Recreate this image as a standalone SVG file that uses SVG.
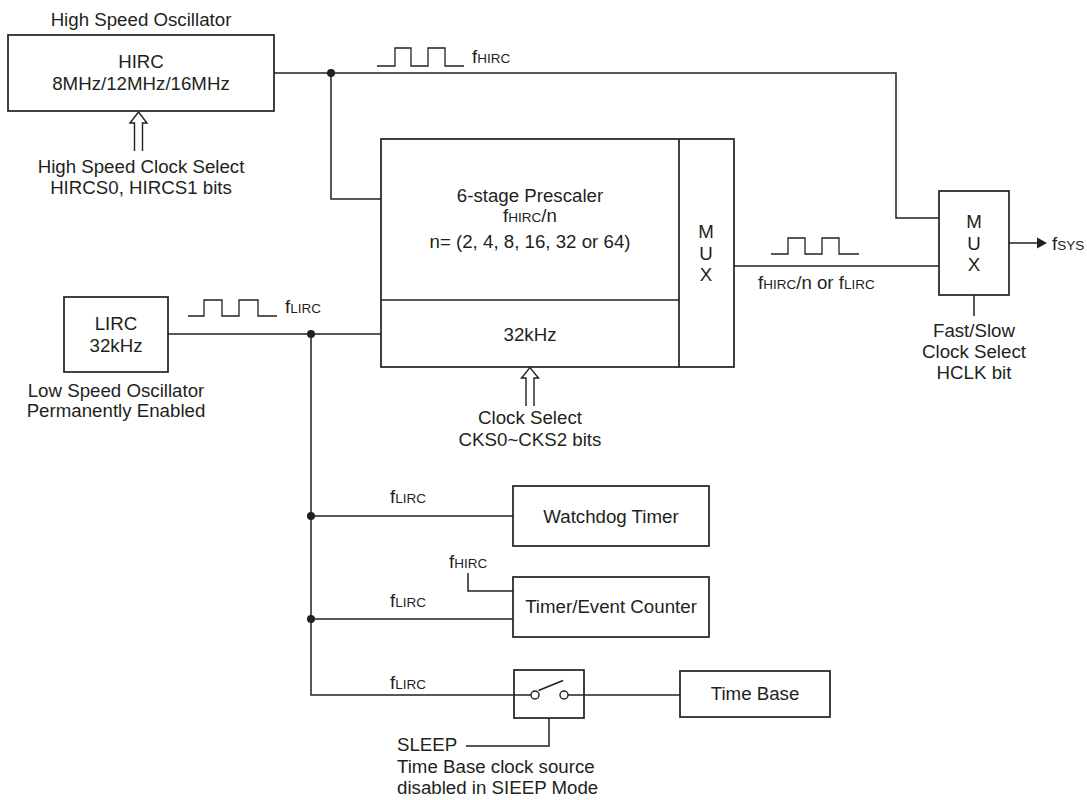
<svg xmlns="http://www.w3.org/2000/svg" width="1087" height="800" viewBox="0 0 1087 800">
<style>
text{font-family:"Liberation Sans",Arial,Helvetica,sans-serif;font-size:18.7px;fill:#231f20}
.c{text-anchor:middle}
.s{font-size:13.5px}
.box{fill:#fff;stroke:#231f20;stroke-width:1.7}
.ln{fill:none;stroke:#231f20;stroke-width:1.5}
.wv{fill:none;stroke:#231f20;stroke-width:1.3}
.dot{fill:#231f20}
.hol{fill:#fff;stroke:#231f20;stroke-width:1.4;stroke-linejoin:miter}
</style>
<rect width="1087" height="800" fill="#fff"/>

<g id="connectors">
  <path class="ln" d="M274,73 H896 V218 H939"/>
  <path class="ln" d="M331,73 V199 H381"/>
  <path class="ln" d="M734,266 H939"/>
  <path class="ln" d="M1009,243 H1040"/>
  <polygon class="dot" points="1037,237.5 1047,243 1037,248.5"/>
  <path class="ln" d="M974,295 V316"/>
  <path class="ln" d="M168,334 H381"/>
  <path class="ln" d="M311,334 V695 H514"/>
  <path class="ln" d="M311,516 H513"/>
  <path class="ln" d="M311,619 H513"/>
  <path class="ln" d="M468,573 V591 H513"/>
  <path class="ln" d="M584,695 H680"/>
  <path class="ln" d="M549,718 V746 H466"/>
  <circle class="dot" cx="331" cy="73" r="4"/>
  <circle class="dot" cx="311" cy="334" r="4"/>
  <circle class="dot" cx="311" cy="516" r="4"/>
  <circle class="dot" cx="311" cy="619" r="4"/>
  <path class="wv" d="M377,66 H395 V48 H411 V66 H428 V48 H445 V66 H464"/>
  <path class="wv" d="M188,316 H204 V300 H222 V316 H239 V300 H258 V316 H277"/>
  <path class="wv" d="M771,254 H788 V238 H805 V254 H822 V238 H839 V254 H859"/>
  <text x="472" y="63">f<tspan class="s">HIRC</tspan></text>
  <text x="285" y="313">f<tspan class="s">LIRC</tspan></text>
  <text x="758" y="289">f<tspan class="s">HIRC</tspan>/n or f<tspan class="s">LIRC</tspan></text>
  <text x="1052" y="250">f<tspan class="s">SYS</tspan></text>
  <text x="390" y="503">f<tspan class="s">LIRC</tspan></text>
  <text x="390" y="607">f<tspan class="s">LIRC</tspan></text>
  <text x="390" y="689">f<tspan class="s">LIRC</tspan></text>
  <text x="449" y="568">f<tspan class="s">HIRC</tspan></text>
  <text x="974" y="337" class="c">Fast/Slow</text>
  <text x="974" y="358" class="c">Clock Select</text>
  <text x="974" y="379" class="c">HCLK bit</text>
  <text x="397" y="751">SLEEP</text>
  <text x="397" y="773">Time Base clock source</text>
  <text x="397" y="794">disabled in SIEEP Mode</text>
</g>

<g id="hirc">
  <text x="141" y="26" class="c">High Speed Oscillator</text>
  <rect class="box" x="8" y="35" width="266" height="76"/>
  <text x="141" y="68" class="c">HIRC</text>
  <text x="141" y="90" class="c">8MHz/12MHz/16MHz</text>
</g>

<g id="hirc-select">
  <path class="hol" d="M134.5,151 V123 H130 L138.5,112 L147,123 H142.5 V151"/>
  <text x="141" y="173" class="c">High Speed Clock Select</text>
  <text x="141" y="194" class="c">HIRCS0, HIRCS1 bits</text>
</g>

<g id="prescaler">
  <rect class="box" x="381" y="139" width="353" height="228"/>
  <line class="ln" x1="679" y1="139" x2="679" y2="367" style="stroke-width:1.7"/>
  <line class="ln" x1="381" y1="300" x2="679" y2="300" style="stroke-width:1.7"/>
  <text x="530" y="202" class="c">6-stage Prescaler</text>
  <text x="530" y="222" class="c">f<tspan class="s">HIRC</tspan>/n</text>
  <text x="530" y="248" class="c">n= (2, 4, 8, 16, 32 or 64)</text>
  <text x="530" y="341" class="c">32kHz</text>
  <text x="706" y="238" class="c">M</text>
  <text x="706" y="260" class="c">U</text>
  <text x="706" y="281" class="c">X</text>
</g>

<g id="clock-select">
  <path class="hol" d="M526,406 V378 H521.5 L530,367.5 L538.5,378 H534 V406"/>
  <text x="530" y="424" class="c">Clock Select</text>
  <text x="530" y="446" class="c">CKS0~CKS2 bits</text>
</g>

<g id="mux2">
  <rect class="box" x="939" y="191" width="70" height="104"/>
  <text x="974" y="228" class="c">M</text>
  <text x="974" y="250" class="c">U</text>
  <text x="974" y="271" class="c">X</text>
</g>

<g id="lirc">
  <rect class="box" x="64" y="297" width="104" height="75"/>
  <text x="116" y="330" class="c">LIRC</text>
  <text x="116" y="352" class="c">32kHz</text>
  <text x="116" y="397" class="c">Low Speed Oscillator</text>
  <text x="116" y="417" class="c">Permanently Enabled</text>
</g>

<g id="watchdog">
  <rect class="box" x="513" y="486" width="196" height="60"/>
  <text x="611" y="523" class="c">Watchdog Timer</text>
</g>

<g id="timer-event">
  <rect class="box" x="513" y="577" width="196" height="60"/>
  <text x="611" y="613" class="c">Timer/Event Counter</text>
</g>

<g id="switch">
  <rect class="box" x="514" y="670" width="70" height="48"/>
  <path class="ln" d="M514,695 H531"/>
  <circle cx="535" cy="695" r="4" fill="#fff" stroke="#231f20" stroke-width="1.4"/>
  <path class="ln" d="M538.5,690.5 L563,680.5"/>
  <circle cx="564" cy="695" r="4" fill="#fff" stroke="#231f20" stroke-width="1.4"/>
  <path class="ln" d="M568,695 H584"/>
</g>

<g id="timebase">
  <rect class="box" x="680" y="671" width="150" height="46"/>
  <text x="755" y="700" class="c">Time Base</text>
</g>
</svg>
